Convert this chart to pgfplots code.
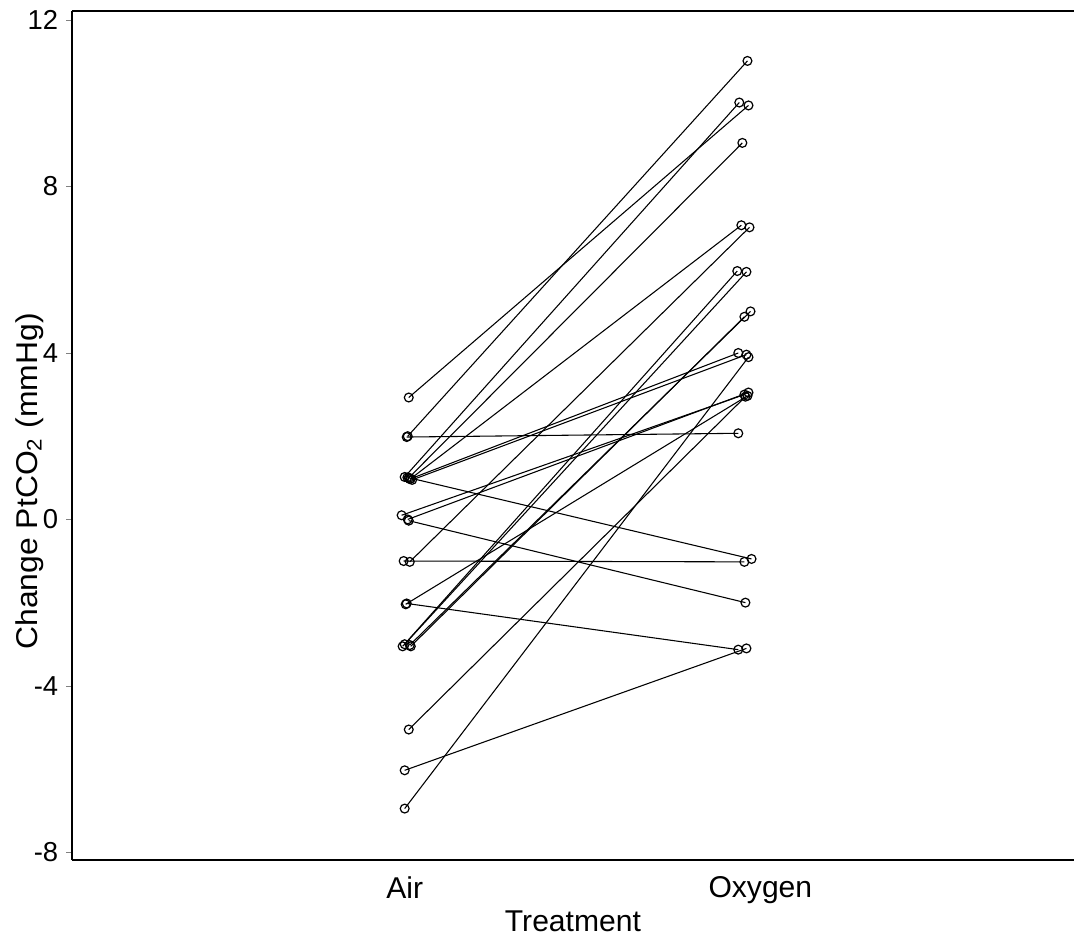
\documentclass[border=0pt]{standalone}
\usepackage{fontspec}
\setmainfont{Liberation Sans}
\usepackage{pgfplots}
\pgfplotsset{compat=1.18}
\pgfplotsset{pair/.style={black, solid, line width=0.4pt, mark=o, mark size=1.65pt, mark options={black, solid, line width=0.45pt}}}
\begin{document}
\fontsize{11.2pt}{13.5pt}\selectfont
\begin{tikzpicture}
\begin{axis}[
  scale only axis, width=373.2pt, height=316.3pt,
  xmin=0.0206, xmax=2.97, ymin=-8.19, ymax=12.22,
  axis x line=box, axis y line=left,
  x axis line style={-}, y axis line style={-},
  axis line style={line width=0.6pt},
  ytick={-8,-4,0,4,8,12},
  yticklabel style={/pgf/number format/assume math mode=true, font=\fontsize{10.2pt}{12pt}\selectfont, xshift=1pt},
  tick align=outside, major tick length=2.2pt,
  xtick={1,2.047}, xticklabels={Air,Oxygen},
  xtick style={draw=none},
  xticklabel style={font=\fontsize{11.2pt}{13.5pt}\selectfont},
  xlabel={Treatment},
  ylabel={\scalebox{1.06}[1]{Change PtCO\textsubscript{2} (mmHg)}},
  xlabel style={at={(axis description cs:0.5,-0.072)}, anchor=center, font=\fontsize{11.2pt}{13.5pt}\selectfont},
  ylabel style={at={(axis description cs:-0.0425,0.446)}, anchor=center, font=\fontsize{11.2pt}{13.5pt}\selectfont},
  clip=false,
]
\addplot[pair] coordinates {(1.012,2.93) (2.012,9.95)};
\addplot[pair] coordinates {(1.009,2.00) (2.009,11.02)};
\addplot[pair] coordinates {(1.006,1.98) (1.982,2.07)};
\addplot[pair] coordinates {(1.000,1.02) (1.985,10.02)};
\addplot[pair] coordinates {(1.012,1.00) (1.994,9.05)};
\addplot[pair] coordinates {(1.018,0.98) (1.991,7.07)};
\addplot[pair] coordinates {(1.015,0.97) (1.982,4.00)};
\addplot[pair] coordinates {(1.022,0.95) (2.006,3.96)};
\addplot[pair] coordinates {(1.008,1.01) (2.021,-0.95)};
\addplot[pair] coordinates {(0.991,0.10) (2.000,3.00)};
\addplot[pair] coordinates {(1.009,0.00) (2.012,3.05)};
\addplot[pair] coordinates {(1.012,-0.03) (2.003,-2.00)};
\addplot[pair] coordinates {(0.997,-1.00) (2.000,-1.02)};
\addplot[pair] coordinates {(1.015,-1.02) (2.015,7.02)};
\addplot[pair] coordinates {(1.006,-2.02) (1.982,-3.13)};
\addplot[pair] coordinates {(1.003,-2.04) (2.009,2.97)};
\addplot[pair] coordinates {(0.994,-3.05) (1.979,5.97)};
\addplot[pair] coordinates {(1.000,-3.00) (2.006,5.95)};
\addplot[pair] coordinates {(1.015,-3.02) (2.018,5.00)};
\addplot[pair] coordinates {(1.018,-3.05) (2.000,4.87)};
\addplot[pair] coordinates {(1.012,-5.05) (2.003,2.95)};
\addplot[pair] coordinates {(1.000,-6.03) (2.006,-3.10)};
\addplot[pair] coordinates {(1.000,-6.95) (2.012,3.90)};
\end{axis}
\pgfresetboundingbox
\path[use as bounding box] ([shift={(-26.8pt,-28.3pt)}]current axis.south west) rectangle ([shift={(0.4pt,4.1pt)}]current axis.north east);
\end{tikzpicture}
\end{document}
